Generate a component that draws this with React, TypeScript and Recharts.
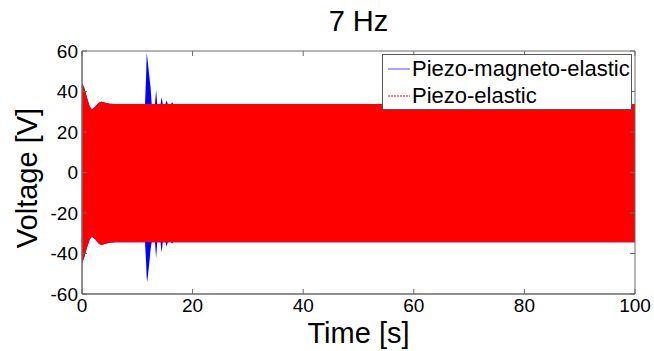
import { ComposedChart, Area, XAxis, YAxis, ReferenceArea } from 'recharts';

// envelope of the 7 Hz response (s, V)
const time = [0, 0.4, 0.9, 1.4, 1.8, 2.4, 3, 3.5, 4.2, 5, 6, 11.4, 11.6, 11.7, 11.8, 12.0, 12.2, 12.4, 12.6, 13.2, 13.4, 13.6, 14.2, 14.4, 14.6, 15.1, 15.3, 15.5, 16.1, 16.3, 16.5, 100];
const elasticUpper = [44, 42, 37, 32.5, 31.2, 32.5, 34.5, 35, 34.5, 34, 33.8, 33.8, 33.8, 33.8, 33.8, 33.8, 33.8, 33.8, 33.8, 33.8, 33.8, 33.8, 33.8, 33.8, 33.8, 33.8, 33.8, 33.8, 33.8, 33.8, 33.8, 33.8];
const elasticLower = [-44.9, -42, -37, -33, -31.7, -33, -35, -35.8, -35.2, -34.7, -34.5, -34.5, -34.5, -34.5, -34.5, -34.5, -34.5, -34.5, -34.5, -34.5, -34.5, -34.5, -34.5, -34.5, -34.5, -34.5, -34.5, -34.5, -34.5, -34.5, -34.5, -34.5];
const magnetoUpper = [44, 42, 37, 32.5, 31.2, 32.5, 34.5, 35, 34.5, 34, 33.8, 33.8, 48, 59, 57, 52, 47, 42, 33.8, 33.8, 40.7, 33.8, 33.8, 37.1, 33.8, 33.8, 35.5, 33.8, 33.8, 34.7, 33.8, 33.8];
const magnetoLower = [-44.9, -42, -37, -33, -31.7, -33, -35, -35.8, -35.2, -34.7, -34.5, -34.5, -45, -52, -54, -49, -44, -38, -34.5, -34.5, -42.4, -34.5, -34.5, -39.6, -34.5, -34.5, -36.6, -34.5, -34.5, -35, -34.5, -34.5];

const xTicks = [0, 20, 40, 60, 80, 100];
const yTicks = [-60, -40, -20, 0, 20, 40, 60];

const data = time.map((t, i) => ({
  t,
  magneto: [magnetoLower[i], magnetoUpper[i]],
  elastic: [elasticLower[i], elasticUpper[i]],
}));

const FONT = '"Liberation Sans", Arial, sans-serif';
const PLOT = { left: 82, right: 635, top: 51, bottom: 294 };
const TICK_COLOR = '#6b6b6b';

const XTick = ({ x, payload }: any) => (
  <g>
    <line x1={x} x2={x} y1={PLOT.bottom} y2={PLOT.bottom - 5} stroke={TICK_COLOR} />
    <line x1={x} x2={x} y1={PLOT.top} y2={PLOT.top + 5} stroke={TICK_COLOR} />
    <text x={x} y={312} textAnchor="middle" fontSize={19} fontFamily={FONT} fill="#000">{payload.value}</text>
  </g>
);

const YTick = ({ y, payload }: any) => (
  <g>
    <line x1={PLOT.left} x2={PLOT.left + 5} y1={y} y2={y} stroke={TICK_COLOR} />
    <line x1={PLOT.right} x2={PLOT.right - 5} y1={y} y2={y} stroke={TICK_COLOR} />
    <text x={78} y={y} dy="0.36em" textAnchor="end" fontSize={19} fontFamily={FONT} fill="#000">{payload.value}</text>
  </g>
);

const LegendBox = () => (
  <div style={{ position: 'absolute', left: 382, top: 54, border: '1px solid #555', background: '#fff', width: 248, height: 54, fontFamily: FONT, fontSize: 22, color: '#000' }}>
    <div style={{ display: 'flex', alignItems: 'center', height: 27 }}>
      <svg width={29} height={10}><line x1={5} x2={27} y1={5} y2={5} stroke="#4d4dff" strokeWidth={1} /></svg>
      <span>Piezo-magneto-elastic</span>
    </div>
    <div style={{ display: 'flex', alignItems: 'center', height: 27 }}>
      <svg width={29} height={10}><line x1={5} x2={27} y1={5} y2={5} stroke="#ff0000" strokeWidth={1} strokeDasharray="2 1" /></svg>
      <span>Piezo-elastic</span>
    </div>
  </div>
);

export default function App() {
  return (
    <div style={{ position: 'absolute', left: 0, top: 0, width: 654, height: 351, background: '#fff' }}>
      <div style={{ position: 'absolute', left: PLOT.left, width: PLOT.right - PLOT.left, top: 4, textAlign: 'center', fontFamily: FONT, fontSize: 29, color: '#000', lineHeight: '34px' }}>
        7 Hz
      </div>
      <ComposedChart width={654} height={351} data={data} margin={{ top: 51, right: 19, bottom: 0, left: 0 }}>
        <XAxis
          dataKey="t"
          type="number"
          domain={[0, 100]}
          ticks={xTicks}
          height={57}
          tickLine={false}
          axisLine={{ stroke: TICK_COLOR }}
          tick={<XTick />}
          label={{ value: 'Time [s]', position: 'insideBottom', offset: 8, fontSize: 29, fontFamily: FONT, fill: '#000' }}
        />
        <YAxis
          type="number"
          domain={[-60, 60]}
          ticks={yTicks}
          width={82}
          allowDataOverflow
          tickLine={false}
          axisLine={{ stroke: TICK_COLOR }}
          tick={<YTick />}
          label={{
            content: () => (
              <text x={37} y={178} transform="rotate(-90, 37, 178)" textAnchor="middle" fontSize={29} fontFamily={FONT} fill="#000">
                Voltage [V]
              </text>
            ),
          }}
        />
        <Area
          dataKey="magneto"
          name="Piezo-magneto-elastic"
          type="linear"
          stroke="none"
          fill="#0000ff"
          fillOpacity={1}
          isAnimationActive={false}
          dot={false}
          activeDot={false}
        />
        <Area
          dataKey="elastic"
          name="Piezo-elastic"
          type="linear"
          stroke="none"
          fill="#ff0000"
          fillOpacity={1}
          isAnimationActive={false}
          dot={false}
          activeDot={false}
        />
        <ReferenceArea x1={0} x2={100} y1={-60} y2={60} fill="none" stroke={TICK_COLOR} strokeWidth={1} ifOverflow="visible" />
      </ComposedChart>
      <LegendBox />
    </div>
  );
}
